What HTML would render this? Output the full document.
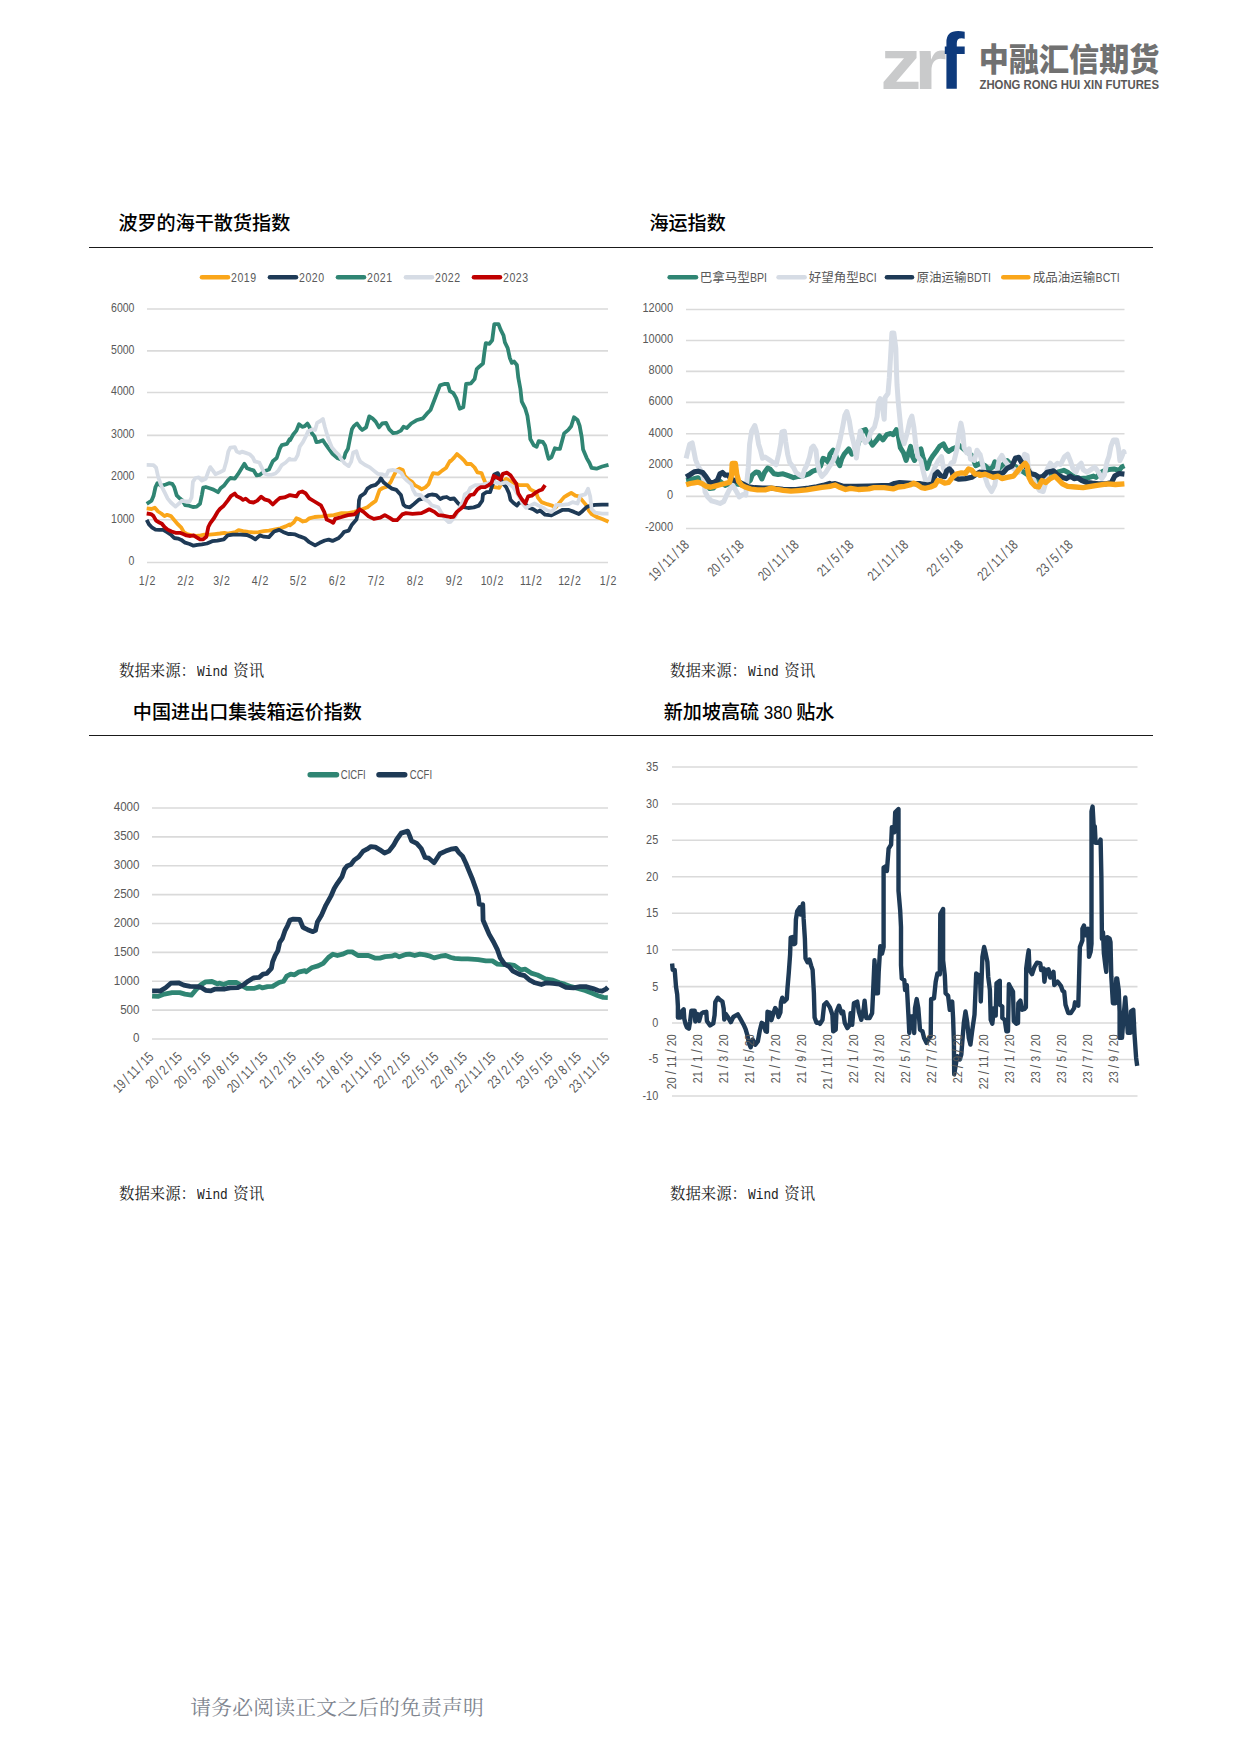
<!DOCTYPE html>
<html lang="zh-CN"><head><meta charset="utf-8"><title>中融汇信期货</title>
<style>
html,body{margin:0;padding:0;background:#fff;}
body{width:1241px;height:1755px;position:relative;overflow:hidden;font-family:"Liberation Sans","Noto Sans CJK SC",sans-serif;}
.t{position:absolute;white-space:nowrap;line-height:1;}
.title{font-family:"Liberation Sans","Noto Sans CJK SC",sans-serif;font-weight:500;font-size:19.1px;color:#000;}
.title .n{display:inline-block;width:26.4px;}
.title .n span{display:inline-block;transform:scaleX(0.89);margin:0 -2.75px;}
.src{font-family:"Liberation Serif","Noto Serif CJK SC",serif;font-size:15.4px;color:#222;}
.src .w{display:inline-block;width:33.45px;}
.src .w span{display:inline-block;font-family:"Liberation Mono",monospace;transform:scaleX(0.833);transform-origin:0 50%;white-space:pre;margin-left:1.5px;}
.rule{position:absolute;height:1.3px;background:#1a1a1a;}
svg.charts{position:absolute;left:0;top:0;}
svg text{font-family:"Liberation Sans","Noto Sans CJK SC",sans-serif;}
.foot{font-family:"Liberation Serif","Noto Serif CJK SC",serif;font-size:20.8px;letter-spacing:0.18px;color:#80858f;}
</style></head><body>
<svg class="charts" width="1241" height="130" viewBox="0 0 1241 130" style="z-index:2">
<text id="lz" transform="translate(880.2,88.9) scale(1.13,1)" font-family="Liberation Sans,sans-serif" font-weight="bold" font-size="73" fill="#C9CACB">z</text>
<text id="lr" transform="translate(914.0,88.9) scale(1.153,1)" font-family="Liberation Sans,sans-serif" font-weight="bold" font-size="73" fill="#C9CACB">r</text>
<clipPath id="cf"><rect x="944.8" y="0" width="60" height="130"/></clipPath><g clip-path="url(#cf)"><text id="lf" transform="translate(939.3,88.9) scale(0.95,1)" font-family="Liberation Sans,sans-serif" font-weight="bold" font-size="80" fill="#0E3A7C">f</text></g>
<text id="lc" x="978.8" y="70.8" font-family="Noto Sans CJK SC,sans-serif" font-weight="900" font-size="31.8" fill="#717171" textLength="180.6" lengthAdjust="spacingAndGlyphs">中融汇信期货</text>
<text id="le" x="979.5" y="89.2" font-family="Liberation Sans,sans-serif" font-weight="bold" font-size="12.6" fill="#5A5858" textLength="179.5" lengthAdjust="spacingAndGlyphs">ZHONG RONG HUI XIN FUTURES</text>
</svg>
<div class="t title" style="left:118.4px;top:214.2px;">波罗的海干散货指数</div>
<div class="t title" style="left:649.4px;top:214.2px;">海运指数</div>
<div class="rule" style="left:89px;top:246.7px;width:1064px;"></div>
<div class="t title" style="left:132.8px;top:703.2px;">中国进出口集装箱运价指数</div>
<div class="t title" style="left:663.7px;top:703.2px;">新加坡高硫 <span class="n"><span>380</span></span> 贴水</div>
<div class="rule" style="left:89px;top:735.2px;width:1064px;"></div>
<svg class="charts" width="1241" height="1755" viewBox="0 0 1241 1755">
<line x1="147" x2="608" y1="308.95" y2="308.95" stroke="#DADADA" stroke-width="1.6"/><line x1="147" x2="608" y1="350.9" y2="350.9" stroke="#DADADA" stroke-width="1.6"/><line x1="147" x2="608" y1="392.5" y2="392.5" stroke="#DADADA" stroke-width="1.6"/><line x1="147" x2="608" y1="435.4" y2="435.4" stroke="#DADADA" stroke-width="1.6"/><line x1="147" x2="608" y1="477.4" y2="477.4" stroke="#DADADA" stroke-width="1.6"/><line x1="147" x2="608" y1="519.7" y2="519.7" stroke="#DADADA" stroke-width="1.6"/><line x1="147" x2="608" y1="562.45" y2="562.45" stroke="#DADADA" stroke-width="1.6"/>
<text transform="translate(134.5,311.84999999999997) scale(0.88,1)" font-size="12" text-anchor="end" fill="#595959" >6000</text>
<text transform="translate(134.5,353.79999999999995) scale(0.88,1)" font-size="12" text-anchor="end" fill="#595959" >5000</text>
<text transform="translate(134.5,395.4) scale(0.88,1)" font-size="12" text-anchor="end" fill="#595959" >4000</text>
<text transform="translate(134.5,438.29999999999995) scale(0.88,1)" font-size="12" text-anchor="end" fill="#595959" >3000</text>
<text transform="translate(134.5,480.29999999999995) scale(0.88,1)" font-size="12" text-anchor="end" fill="#595959" >2000</text>
<text transform="translate(134.5,522.6) scale(0.88,1)" font-size="12" text-anchor="end" fill="#595959" >1000</text>
<text transform="translate(134.5,565.35) scale(0.88,1)" font-size="12" text-anchor="end" fill="#595959" >0</text>
<text transform="translate(147,585) scale(0.88,1)" font-size="12" text-anchor="middle" fill="#595959" >1<tspan font-size="13.8" dx="0.9" dy="0.8">/</tspan><tspan dx="0.9" dy="-0.8">2</tspan></text>
<text transform="translate(185.5,585) scale(0.88,1)" font-size="12" text-anchor="middle" fill="#595959" >2<tspan font-size="13.8" dx="0.9" dy="0.8">/</tspan><tspan dx="0.9" dy="-0.8">2</tspan></text>
<text transform="translate(221.5,585) scale(0.88,1)" font-size="12" text-anchor="middle" fill="#595959" >3<tspan font-size="13.8" dx="0.9" dy="0.8">/</tspan><tspan dx="0.9" dy="-0.8">2</tspan></text>
<text transform="translate(260,585) scale(0.88,1)" font-size="12" text-anchor="middle" fill="#595959" >4<tspan font-size="13.8" dx="0.9" dy="0.8">/</tspan><tspan dx="0.9" dy="-0.8">2</tspan></text>
<text transform="translate(298,585) scale(0.88,1)" font-size="12" text-anchor="middle" fill="#595959" >5<tspan font-size="13.8" dx="0.9" dy="0.8">/</tspan><tspan dx="0.9" dy="-0.8">2</tspan></text>
<text transform="translate(337,585) scale(0.88,1)" font-size="12" text-anchor="middle" fill="#595959" >6<tspan font-size="13.8" dx="0.9" dy="0.8">/</tspan><tspan dx="0.9" dy="-0.8">2</tspan></text>
<text transform="translate(376,585) scale(0.88,1)" font-size="12" text-anchor="middle" fill="#595959" >7<tspan font-size="13.8" dx="0.9" dy="0.8">/</tspan><tspan dx="0.9" dy="-0.8">2</tspan></text>
<text transform="translate(415,585) scale(0.88,1)" font-size="12" text-anchor="middle" fill="#595959" >8<tspan font-size="13.8" dx="0.9" dy="0.8">/</tspan><tspan dx="0.9" dy="-0.8">2</tspan></text>
<text transform="translate(454,585) scale(0.88,1)" font-size="12" text-anchor="middle" fill="#595959" >9<tspan font-size="13.8" dx="0.9" dy="0.8">/</tspan><tspan dx="0.9" dy="-0.8">2</tspan></text>
<text transform="translate(492,585) scale(0.88,1)" font-size="12" text-anchor="middle" fill="#595959" >10<tspan font-size="13.8" dx="0.9" dy="0.8">/</tspan><tspan dx="0.9" dy="-0.8">2</tspan></text>
<text transform="translate(531,585) scale(0.88,1)" font-size="12" text-anchor="middle" fill="#595959" >11<tspan font-size="13.8" dx="0.9" dy="0.8">/</tspan><tspan dx="0.9" dy="-0.8">2</tspan></text>
<text transform="translate(569.5,585) scale(0.88,1)" font-size="12" text-anchor="middle" fill="#595959" >12<tspan font-size="13.8" dx="0.9" dy="0.8">/</tspan><tspan dx="0.9" dy="-0.8">2</tspan></text>
<text transform="translate(608,585) scale(0.88,1)" font-size="12" text-anchor="middle" fill="#595959" >1<tspan font-size="13.8" dx="0.9" dy="0.8">/</tspan><tspan dx="0.9" dy="-0.8">2</tspan></text>
<polyline points="146.7,508.3 151.6,509.0 154.8,507.7 158.1,511.5 161.3,513.5 164.5,516.1 167.1,514.8 170.9,516.1 174.2,519.9 178.0,524.4 181.3,527.7 183.8,532.2 187.1,534.1 191.6,535.4 196.7,536.0 200.6,535.4 204.5,534.7 209.6,534.7 214.8,534.1 219.9,533.5 224.5,532.8 227.7,533.5 235.4,532.2 238.6,530.2 243.1,531.1 248.3,531.9 253.5,532.4 258.6,532.2 263.8,531.1 268.9,530.6 274.1,529.6 280.5,528.3 285.7,526.4 289.6,524.4 290.0,525.4 293.9,522.2 296.4,518.3 299.7,519.6 302.9,521.5 306.1,520.9 309.3,518.3 314.5,517.0 322.2,516.4 328.7,515.7 333.8,515.1 341.6,513.1 348.0,513.1 354.5,511.9 362.2,509.3 367.4,507.3 371.2,504.1 375.7,500.9 377.7,495.1 379.6,489.9 382.8,488.0 386.7,486.7 390.6,482.2 393.1,477.0 396.4,470.6 399.6,468.7 402.8,470.0 404.7,475.8 408.6,479.6 411.8,481.6 415.1,485.4 418.9,487.4 421.5,489.3 425.4,487.4 428.6,484.1 431.2,477.0 433.1,473.2 438.3,473.8 442.1,470.6 446.0,468.0 450.0,460.9 450.6,461.2 454.1,457.6 456.9,454.1 460.4,456.9 464.0,460.4 466.8,464.0 471.0,464.0 474.6,467.5 477.4,472.4 481.6,473.1 483.7,478.8 485.8,483.7 489.4,485.1 494.3,487.2 499.2,487.9 502.1,482.3 506.3,478.8 511.9,482.3 519.0,485.1 527.4,485.1 530.3,489.4 535.9,492.2 538.0,497.8 541.5,502.1 547.2,504.2 552.1,505.6 555.6,507.7 559.9,502.1 564.1,497.1 567.6,495.0 571.2,492.9 575.4,495.7 578.9,496.4 582.4,500.6 586.0,504.9 588.8,510.5 591.6,514.0 596.5,516.9 602.2,519.0 608.5,521.8" fill="none" stroke="#FAA61A" stroke-width="3.8" stroke-linejoin="round" stroke-linecap="butt"/>
<polyline points="146.7,519.9 149.0,524.4 152.2,527.7 155.5,529.6 159.3,529.9 163.2,529.9 167.1,532.2 170.9,534.7 174.2,538.0 178.0,538.6 181.3,539.9 185.1,542.7 189.6,544.0 193.5,545.7 197.4,544.8 201.9,544.4 207.0,543.5 212.2,541.2 217.4,540.6 223.8,539.3 227.7,535.4 232.8,534.7 240.6,534.7 247.0,535.0 252.2,537.3 255.4,539.3 259.9,535.4 263.8,536.7 268.9,537.1 274.1,531.5 279.2,529.9 283.1,531.9 288.3,534.1 290.0,533.8 295.2,534.4 299.7,536.4 304.8,538.3 309.3,542.2 315.1,545.4 319.7,542.8 324.8,540.5 328.7,539.6 332.5,540.9 338.3,538.3 341.6,535.1 344.2,531.8 348.7,530.6 351.9,524.7 356.4,519.6 358.3,511.9 359.0,500.3 360.3,496.4 364.8,493.2 367.4,488.6 371.2,486.1 375.7,484.8 379.0,481.6 380.9,478.3 383.5,482.2 387.3,485.4 391.9,488.6 396.4,489.9 400.9,495.1 403.5,504.8 406.0,506.7 409.9,507.3 413.8,504.1 418.9,499.6 424.1,498.3 428.6,495.1 431.8,494.5 436.3,495.1 440.2,499.0 442.8,497.7 446.7,497.0 450.0,499.0 454.1,498.5 458.3,503.5 462.6,507.0 468.2,508.0 473.8,507.4 478.8,505.6 482.3,500.6 483.0,494.3 486.5,492.2 490.1,492.2 492.9,483.7 494.3,474.6 497.8,473.1 499.9,477.4 502.1,482.3 506.3,487.2 509.1,493.6 510.5,499.9 513.3,502.8 516.9,505.6 519.0,502.8 523.2,502.1 528.8,507.7 533.1,509.1 537.3,511.9 540.1,510.5 545.1,514.7 551.4,515.4 557.0,512.6 562.7,509.8 568.3,509.8 574.0,511.9 578.9,514.0 582.4,511.2 586.7,507.0 590.9,505.6 595.1,504.9 602.2,504.6 608.5,504.6" fill="none" stroke="#1E3A56" stroke-width="3.8" stroke-linejoin="round" stroke-linecap="butt"/>
<polyline points="146.7,503.8 151.6,500.6 153.5,496.1 155.5,487.0 157.4,483.2 161.3,485.8 165.8,484.5 169.0,483.2 172.2,483.8 174.2,487.0 176.7,495.4 180.0,498.6 182.5,500.6 185.1,505.1 189.0,505.7 192.9,507.0 196.7,506.6 200.0,503.8 201.9,494.8 203.2,487.7 205.8,487.0 209.6,488.3 213.5,489.6 218.0,492.2 220.6,488.3 223.8,485.8 227.7,480.6 230.3,478.0 234.8,478.7 238.0,474.2 241.2,469.0 244.4,463.8 247.0,468.3 250.9,469.6 253.5,470.3 256.7,475.4 259.9,474.8 263.8,471.6 268.9,469.6 272.8,461.3 276.7,458.0 279.9,448.4 281.8,445.1 287.0,443.9 289.6,439.3 290.0,440.3 293.2,434.5 296.4,430.6 299.0,424.2 302.2,426.8 304.8,426.1 307.4,423.5 309.3,426.8 311.9,433.2 314.5,436.4 316.4,442.2 319.7,441.6 322.9,440.3 325.5,444.2 328.7,448.7 332.5,453.8 337.7,458.3 341.6,459.6 344.2,457.7 345.4,453.2 348.0,448.7 350.0,438.4 351.9,429.3 353.8,426.1 357.0,423.5 360.3,428.1 362.2,430.0 366.1,427.4 369.3,416.4 372.5,418.4 375.7,421.6 379.0,427.4 382.2,423.5 386.1,422.9 389.3,429.3 393.1,433.2 397.0,432.6 400.9,430.6 403.5,426.8 406.7,428.1 411.2,423.5 416.4,420.3 422.8,418.4 426.7,413.9 430.5,410.0 440.0,385.4 444.2,384.0 447.8,384.0 449.9,391.1 453.4,393.2 456.2,398.1 459.7,408.7 463.3,407.3 464.7,396.0 466.1,384.0 471.0,383.3 474.6,379.1 476.7,369.2 479.5,366.4 483.0,363.6 484.4,352.3 485.8,343.1 489.4,343.8 492.2,340.3 494.3,324.1 498.5,324.1 500.6,329.7 503.5,335.4 504.9,342.4 507.7,348.1 509.8,357.9 511.9,362.9 514.0,361.5 516.9,365.0 518.3,377.7 520.4,389.0 521.8,401.7 525.3,408.7 527.4,415.8 529.6,431.3 530.3,439.0 533.8,445.4 536.6,446.8 538.7,441.2 542.9,441.9 545.1,445.4 547.2,453.8 548.6,458.8 551.4,457.4 554.9,448.2 557.0,448.9 559.9,448.9 562.0,441.2 564.1,433.4 568.3,429.9 571.2,426.3 574.0,417.2 577.5,420.0 579.6,425.6 581.7,436.9 583.1,449.6 586.7,458.1 589.5,463.0 591.6,467.9 596.5,468.7 602.2,466.5 608.5,464.8" fill="none" stroke="#2F8573" stroke-width="3.8" stroke-linejoin="round" stroke-linecap="butt"/>
<polyline points="146.7,464.9 153.5,465.1 156.1,467.7 158.1,476.7 161.3,485.8 164.5,492.2 167.7,498.6 170.9,502.5 175.5,506.6 178.7,503.8 181.9,500.6 185.1,501.5 189.6,501.5 191.6,497.4 192.9,481.9 195.4,478.0 198.7,477.4 201.9,480.6 205.8,478.7 208.3,471.6 210.3,467.1 212.2,469.6 215.4,474.2 219.9,472.2 223.8,470.3 226.4,461.3 228.3,451.6 230.3,447.7 234.8,447.1 236.7,451.6 239.9,452.9 241.9,451.6 245.7,452.9 249.6,454.2 252.8,457.4 254.7,461.3 259.3,462.5 261.8,467.7 264.4,473.5 267.6,474.8 271.5,474.8 275.4,473.5 278.6,470.3 281.8,465.1 285.7,462.5 289.6,458.7 290.0,459.6 295.2,459.6 297.7,455.1 299.7,446.7 302.9,442.2 306.1,435.8 308.1,431.3 312.6,429.3 315.1,430.0 317.1,422.9 320.3,421.0 322.9,419.0 324.8,426.8 326.7,433.2 328.7,439.7 331.9,447.4 335.1,451.3 339.0,455.1 341.6,459.6 344.8,463.5 348.7,466.1 351.2,461.6 353.2,452.5 356.4,451.3 358.3,457.7 360.3,461.6 364.8,464.8 369.9,467.4 373.8,470.6 377.7,473.8 382.8,474.5 386.1,475.8 388.6,470.6 393.1,470.0 398.3,471.2 401.5,473.2 404.1,477.7 407.3,480.9 411.2,484.1 413.1,489.9 415.7,494.5 420.9,495.1 424.1,499.0 428.6,501.5 431.8,505.4 438.3,507.3 441.5,513.1 444.7,518.3 448.6,522.2 450.6,521.8 455.5,516.2 459.7,507.7 463.3,500.6 464.7,494.3 468.2,492.2 470.3,487.9 475.3,485.1 480.9,485.1 486.5,483.7 492.2,481.6 500.6,483.7 506.3,482.3 510.5,485.1 513.3,487.2 519.0,496.4 522.5,503.5 526.0,507.7 530.3,505.6 534.5,503.5 538.7,505.6 542.9,507.7 547.2,510.5 551.4,511.9 554.2,509.1 556.3,504.9 562.7,504.9 568.3,504.2 572.6,502.1 577.5,503.5 580.3,495.7 585.3,494.3 588.1,488.7 590.2,496.4 591.6,509.1 595.1,512.6 602.2,513.6 608.5,513.6" fill="none" stroke="#D6DCE5" stroke-width="3.8" stroke-linejoin="round" stroke-linecap="butt"/>
<polyline points="146.7,513.5 151.0,514.1 153.5,516.1 156.1,520.6 159.3,522.5 161.9,523.8 164.5,527.0 167.7,529.6 171.6,531.5 175.5,532.8 180.0,532.8 183.2,534.1 186.4,535.4 190.3,536.0 193.5,535.4 196.7,537.3 200.0,539.3 203.2,539.3 206.4,536.7 208.3,527.0 210.3,523.1 214.1,518.0 217.4,512.2 219.9,509.0 223.8,505.7 227.7,500.6 230.9,496.1 234.8,493.5 236.7,496.1 240.6,498.0 243.1,499.9 245.7,498.6 249.6,501.9 253.5,502.5 257.3,500.6 261.2,496.7 264.4,499.3 268.9,500.6 272.8,504.5 276.7,500.6 279.9,498.0 284.4,497.4 288.9,495.4 290.0,495.1 296.4,496.4 299.0,492.5 302.2,491.5 305.5,493.2 309.3,498.3 314.5,501.5 320.9,505.4 324.2,511.9 326.7,519.6 330.0,520.9 333.2,522.8 335.1,518.9 341.6,517.0 348.0,515.1 354.5,514.4 359.6,509.3 363.5,511.9 368.6,516.4 373.8,518.9 380.3,517.7 384.8,515.1 389.3,517.7 393.1,520.2 397.0,520.2 402.2,514.4 406.0,513.1 412.5,513.8 421.5,513.1 425.4,511.2 429.2,509.3 434.4,511.9 438.3,515.1 443.4,515.7 450.0,517.0 453.4,516.9 456.9,511.9 461.2,508.4 464.0,505.6 466.8,499.2 470.3,495.0 473.8,494.3 477.4,489.4 480.9,487.2 485.1,487.2 488.7,485.1 491.5,483.0 493.6,476.0 497.8,478.1 500.6,479.5 502.8,473.8 507.0,472.7 510.5,475.3 513.3,479.5 516.2,483.7 518.3,493.6 521.8,499.2 525.3,503.5 528.1,496.4 531.7,495.7 535.2,492.9 538.7,490.8 542.2,489.4 545.1,485.1" fill="none" stroke="#C00000" stroke-width="3.8" stroke-linejoin="round" stroke-linecap="butt"/>
<line x1="202" x2="228" y1="277.2" y2="277.2" stroke="#FAA61A" stroke-width="4.6" stroke-linecap="round"/><text transform="translate(231,281.5) scale(0.88,1)" font-size="12" text-anchor="start" fill="#595959" letter-spacing="0.6">2019</text><line x1="270" x2="296" y1="277.2" y2="277.2" stroke="#1E3A56" stroke-width="4.6" stroke-linecap="round"/><text transform="translate(299,281.5) scale(0.88,1)" font-size="12" text-anchor="start" fill="#595959" letter-spacing="0.6">2020</text><line x1="338" x2="364" y1="277.2" y2="277.2" stroke="#2F8573" stroke-width="4.6" stroke-linecap="round"/><text transform="translate(367,281.5) scale(0.88,1)" font-size="12" text-anchor="start" fill="#595959" letter-spacing="0.6">2021</text><line x1="406" x2="432" y1="277.2" y2="277.2" stroke="#D6DCE5" stroke-width="4.6" stroke-linecap="round"/><text transform="translate(435,281.5) scale(0.88,1)" font-size="12" text-anchor="start" fill="#595959" letter-spacing="0.6">2022</text><line x1="474" x2="500" y1="277.2" y2="277.2" stroke="#C00000" stroke-width="4.6" stroke-linecap="round"/><text transform="translate(503,281.5) scale(0.88,1)" font-size="12" text-anchor="start" fill="#595959" letter-spacing="0.6">2023</text>
<line x1="686" x2="1124.5" y1="309.5" y2="309.5" stroke="#DADADA" stroke-width="1.6"/><line x1="686" x2="1124.5" y1="340.45" y2="340.45" stroke="#DADADA" stroke-width="1.6"/><line x1="686" x2="1124.5" y1="371.4" y2="371.4" stroke="#DADADA" stroke-width="1.6"/><line x1="686" x2="1124.5" y1="402.4" y2="402.4" stroke="#DADADA" stroke-width="1.6"/><line x1="686" x2="1124.5" y1="433.8" y2="433.8" stroke="#DADADA" stroke-width="1.6"/><line x1="686" x2="1124.5" y1="465.1" y2="465.1" stroke="#DADADA" stroke-width="1.6"/><line x1="686" x2="1124.5" y1="496.4" y2="496.4" stroke="#DADADA" stroke-width="1.6"/><line x1="686" x2="1124.5" y1="528.5" y2="528.5" stroke="#DADADA" stroke-width="1.6"/>
<text transform="translate(673,312.3) scale(0.88,1)" font-size="12.5" text-anchor="end" fill="#595959" >12000</text>
<text transform="translate(673,343.25) scale(0.88,1)" font-size="12.5" text-anchor="end" fill="#595959" >10000</text>
<text transform="translate(673,374.2) scale(0.88,1)" font-size="12.5" text-anchor="end" fill="#595959" >8000</text>
<text transform="translate(673,405.2) scale(0.88,1)" font-size="12.5" text-anchor="end" fill="#595959" >6000</text>
<text transform="translate(673,436.6) scale(0.88,1)" font-size="12.5" text-anchor="end" fill="#595959" >4000</text>
<text transform="translate(673,467.90000000000003) scale(0.88,1)" font-size="12.5" text-anchor="end" fill="#595959" >2000</text>
<text transform="translate(673,499.2) scale(0.88,1)" font-size="12.5" text-anchor="end" fill="#595959" >0</text>
<text transform="translate(673,531.3) scale(0.88,1)" font-size="12.5" text-anchor="end" fill="#595959" >-2000</text>
<polyline points="686.1,480.3 692.9,479.0 698.1,477.7 703.2,482.8 709.7,488.6 713.5,488.0 718.7,480.3 725.1,485.4 731.6,482.8 736.7,484.1 744.5,485.4 750.3,480.3 752.2,475.1 756.1,471.9 758.6,472.5 761.9,479.0 764.5,472.5 767.7,468.0 770.3,469.3 774.1,473.8 778.0,474.5 783.1,473.8 788.3,475.7 793.5,477.7 798.6,476.4 803.8,475.7 808.9,473.8 812.8,471.2 816.7,469.9 820.5,466.1 823.1,458.3 825.7,459.6 828.3,462.2 830.0,454.1 833.2,450.2 835.8,455.4 837.7,461.8 839.7,465.7 841.6,459.2 844.2,454.1 848.7,448.9 851.9,454.1 855.8,451.5 862.2,430.9 865.5,429.6 867.4,433.5 870.0,441.2 872.5,445.1 875.8,441.2 879.6,436.0 882.9,439.9 886.7,434.7 890.6,433.5 893.2,434.7 896.4,429.6 898.3,436.0 900.3,447.6 903.5,452.8 906.1,460.5 908.6,452.8 910.6,446.4 912.5,456.7 914.5,460.5 919.0,450.2 920.9,448.9 922.8,456.7 925.4,464.4 927.3,468.3 929.9,460.5 933.1,455.4 937.0,450.2 939.6,446.4 943.5,443.8 946.0,448.9 948.6,451.5 952.5,448.9 955.7,447.6 958.9,445.1 966.7,451.5 971.8,455.4 975.7,465.7 978.3,464.4 980.0,463.2 985.2,465.8 989.0,469.6 992.9,467.0 994.8,461.9 999.3,468.3 1007.1,460.6 1009.7,463.2 1016.1,467.0 1023.8,472.2 1031.6,477.4 1036.7,481.2 1041.9,477.4 1047.0,473.5 1057.4,472.2 1063.8,470.3 1067.7,472.2 1072.8,476.1 1080.6,478.6 1087.0,478.0 1093.5,476.1 1096.0,477.4 1101.2,472.2 1103.8,470.9 1108.9,469.6 1114.1,469.0 1119.2,470.3 1121.8,467.0 1124.4,465.8" fill="none" stroke="#2F8573" stroke-width="5.0" stroke-linejoin="round" stroke-linecap="butt"/>
<polyline points="686.1,458.3 687.7,451.9 689.7,444.2 692.2,442.9 693.5,449.3 695.5,459.6 698.1,466.1 701.9,472.5 703.9,480.3 705.1,491.9 707.7,497.0 711.6,500.9 716.1,502.2 720.0,503.5 723.8,501.5 726.4,495.7 729.6,489.3 732.9,485.4 736.7,491.9 739.3,497.0 743.2,494.4 745.8,495.1 747.0,480.3 748.3,467.4 749.6,444.2 751.6,431.3 754.8,425.5 756.7,432.5 758.6,444.2 760.6,450.6 762.5,458.3 765.1,457.0 769.0,459.6 772.8,462.2 776.1,464.8 778.6,454.5 780.6,444.2 781.9,431.9 784.4,431.3 785.7,441.6 787.7,454.5 789.6,462.2 793.5,467.4 796.0,472.5 799.9,475.1 802.5,476.4 804.4,469.9 807.0,464.8 809.6,457.0 811.5,448.0 813.4,446.1 816.0,450.6 817.3,462.2 819.2,471.2 821.8,476.4 825.7,472.5 829.6,466.1 830.0,465.7 833.9,459.2 837.7,448.9 840.3,438.6 842.9,425.7 844.8,415.4 846.8,411.5 849.3,420.6 851.3,433.5 853.9,443.8 856.4,458.0 858.4,442.5 860.3,430.9 862.9,438.6 865.5,442.5 868.7,438.6 871.3,430.9 874.5,427.0 877.1,416.7 878.3,402.5 880.3,398.6 882.2,406.4 884.2,419.3 885.1,397.4 888.0,393.5 889.3,378.0 890.6,356.1 891.9,332.9 893.8,332.9 895.8,348.4 896.4,369.0 897.0,384.5 898.3,402.5 900.3,423.1 901.6,436.0 904.1,443.8 907.4,432.2 909.9,420.6 911.9,416.1 913.8,427.0 915.7,443.8 917.7,456.7 920.9,460.5 922.8,469.6 925.4,479.9 928.6,481.2 931.9,474.7 934.4,468.3 938.3,460.5 941.5,456.7 943.5,468.3 946.0,473.4 951.2,463.1 953.8,461.8 957.0,448.9 958.9,433.5 960.9,423.1 962.8,432.2 964.1,447.6 966.7,452.8 969.2,448.9 970.5,459.2 974.4,460.5 977.0,450.2 979.6,454.1 980.0,454.2 982.6,464.5 985.2,477.4 987.7,485.1 991.6,491.5 994.8,485.1 996.8,472.2 999.3,459.3 1001.9,455.4 1004.5,460.6 1007.7,464.5 1018.7,472.2 1022.5,461.9 1024.5,454.2 1027.1,455.4 1028.3,467.0 1035.4,483.8 1039.3,490.3 1043.2,491.5 1045.8,482.5 1047.0,469.6 1050.3,463.2 1053.5,467.0 1057.4,463.2 1060.6,464.5 1064.5,456.7 1067.7,454.2 1070.3,460.6 1072.8,468.3 1076.1,472.2 1078.6,465.8 1081.2,463.2 1083.1,469.6 1087.0,472.2 1090.9,469.6 1094.7,467.0 1098.6,472.2 1101.8,478.6 1104.4,474.8 1107.0,461.9 1108.9,456.7 1110.9,446.4 1113.4,440.0 1116.7,440.0 1118.6,449.0 1119.9,460.6 1121.8,456.7 1123.8,451.6 1124.4,454.2" fill="none" stroke="#D6DCE5" stroke-width="5.0" stroke-linejoin="round" stroke-linecap="butt"/>
<polyline points="686.1,477.0 690.3,474.5 694.2,471.9 698.1,471.2 702.6,472.5 705.8,476.4 709.7,482.2 713.5,482.8 717.4,480.3 720.0,473.8 722.5,472.5 725.1,475.1 728.3,475.1 730.9,479.0 734.2,480.3 738.0,481.5 743.2,484.1 748.3,486.7 754.8,487.7 762.5,488.0 770.3,488.0 783.1,489.3 796.0,489.5 808.9,488.0 816.7,486.7 823.1,485.4 829.6,483.5 830.0,484.4 835.2,483.7 842.9,486.3 855.8,486.3 868.7,486.1 881.6,485.7 889.3,485.7 894.5,483.5 899.6,482.5 907.4,483.1 913.8,483.7 920.3,483.7 928.0,485.0 933.1,483.7 935.1,474.7 937.7,472.1 940.9,476.0 944.7,476.7 946.7,470.9 949.3,468.9 951.8,471.5 953.8,477.3 958.9,479.2 965.4,478.6 971.8,477.3 975.7,474.7 979.6,472.1 980.0,472.2 987.7,472.8 995.5,473.5 1003.2,472.8 1007.1,468.3 1012.2,465.8 1015.5,458.0 1018.7,457.4 1021.3,461.9 1024.5,464.5 1030.3,473.5 1035.4,474.8 1039.3,477.4 1043.2,476.1 1047.0,472.2 1053.5,470.9 1057.4,474.8 1062.5,477.4 1066.4,478.6 1070.3,476.1 1074.1,478.6 1078.0,478.0 1081.9,480.6 1087.0,482.5 1092.2,483.2 1098.6,483.8 1106.4,483.8 1111.5,482.5 1114.7,476.1 1119.2,473.5 1124.4,474.1" fill="none" stroke="#1E3A56" stroke-width="5.2" stroke-linejoin="round" stroke-linecap="butt"/>
<polyline points="686.1,484.8 690.3,483.5 694.2,482.8 698.1,482.2 701.9,483.5 705.8,486.1 710.3,487.3 714.8,486.1 720.0,484.8 725.1,483.5 729.6,482.2 731.6,475.1 732.2,463.5 735.4,463.5 736.7,473.8 738.7,481.5 741.9,485.4 745.8,487.3 750.9,489.0 757.4,489.9 765.1,489.9 771.5,488.0 775.4,489.0 783.1,490.3 790.9,491.2 798.6,490.6 806.4,489.9 814.1,488.6 821.8,487.3 828.3,486.7 830.0,486.3 835.2,485.0 840.3,487.6 845.5,489.5 850.6,488.3 858.4,489.5 868.7,488.9 873.8,487.6 884.2,487.6 893.2,488.9 898.3,487.0 904.8,486.3 909.9,485.0 913.8,483.1 917.7,485.0 921.5,487.6 925.4,488.3 930.6,487.0 935.1,485.0 937.7,480.5 940.9,481.2 944.7,483.1 948.6,482.5 952.5,477.3 956.4,474.1 961.5,472.8 965.4,473.4 968.6,468.9 971.8,470.2 975.0,474.1 979.6,474.1 980.0,475.4 985.2,474.1 992.9,477.4 998.1,476.1 1001.9,478.6 1007.1,477.4 1013.5,476.1 1018.7,469.6 1022.5,465.8 1025.1,463.2 1027.1,465.8 1029.0,477.4 1031.6,482.5 1035.4,486.4 1038.7,487.0 1041.9,480.6 1045.8,482.5 1050.3,478.6 1054.8,476.1 1058.6,479.9 1062.5,483.8 1067.7,486.4 1075.4,487.0 1083.1,487.7 1090.9,486.4 1098.6,485.1 1107.6,483.8 1115.4,484.5 1124.4,483.8" fill="none" stroke="#FAA61A" stroke-width="5.3" stroke-linejoin="round" stroke-linecap="butt"/>
<text transform="translate(690.0,545.7) rotate(-45) scale(0.76,1)" font-size="14" text-anchor="end" fill="#595959">19<tspan font-size="16.1" dx="2.75" dy="0.8">/</tspan><tspan dx="2.75" dy="-0.8">1</tspan>1<tspan font-size="16.1" dx="2.75" dy="0.8">/</tspan><tspan dx="2.75" dy="-0.8">1</tspan>8</text>
<text transform="translate(744.8,545.7) rotate(-45) scale(0.76,1)" font-size="14" text-anchor="end" fill="#595959">20<tspan font-size="16.1" dx="2.75" dy="0.8">/</tspan><tspan dx="2.75" dy="-0.8">5</tspan><tspan font-size="16.1" dx="2.75" dy="0.8">/</tspan><tspan dx="2.75" dy="-0.8">1</tspan>8</text>
<text transform="translate(799.6,545.7) rotate(-45) scale(0.76,1)" font-size="14" text-anchor="end" fill="#595959">20<tspan font-size="16.1" dx="2.75" dy="0.8">/</tspan><tspan dx="2.75" dy="-0.8">1</tspan>1<tspan font-size="16.1" dx="2.75" dy="0.8">/</tspan><tspan dx="2.75" dy="-0.8">1</tspan>8</text>
<text transform="translate(854.4,545.7) rotate(-45) scale(0.76,1)" font-size="14" text-anchor="end" fill="#595959">21<tspan font-size="16.1" dx="2.75" dy="0.8">/</tspan><tspan dx="2.75" dy="-0.8">5</tspan><tspan font-size="16.1" dx="2.75" dy="0.8">/</tspan><tspan dx="2.75" dy="-0.8">1</tspan>8</text>
<text transform="translate(909.2,545.7) rotate(-45) scale(0.76,1)" font-size="14" text-anchor="end" fill="#595959">21<tspan font-size="16.1" dx="2.75" dy="0.8">/</tspan><tspan dx="2.75" dy="-0.8">1</tspan>1<tspan font-size="16.1" dx="2.75" dy="0.8">/</tspan><tspan dx="2.75" dy="-0.8">1</tspan>8</text>
<text transform="translate(964.0,545.7) rotate(-45) scale(0.76,1)" font-size="14" text-anchor="end" fill="#595959">22<tspan font-size="16.1" dx="2.75" dy="0.8">/</tspan><tspan dx="2.75" dy="-0.8">5</tspan><tspan font-size="16.1" dx="2.75" dy="0.8">/</tspan><tspan dx="2.75" dy="-0.8">1</tspan>8</text>
<text transform="translate(1018.8,545.7) rotate(-45) scale(0.76,1)" font-size="14" text-anchor="end" fill="#595959">22<tspan font-size="16.1" dx="2.75" dy="0.8">/</tspan><tspan dx="2.75" dy="-0.8">1</tspan>1<tspan font-size="16.1" dx="2.75" dy="0.8">/</tspan><tspan dx="2.75" dy="-0.8">1</tspan>8</text>
<text transform="translate(1073.6,545.7) rotate(-45) scale(0.76,1)" font-size="14" text-anchor="end" fill="#595959">23<tspan font-size="16.1" dx="2.75" dy="0.8">/</tspan><tspan dx="2.75" dy="-0.8">5</tspan><tspan font-size="16.1" dx="2.75" dy="0.8">/</tspan><tspan dx="2.75" dy="-0.8">1</tspan>8</text>
<line x1="669.7" x2="696" y1="277.3" y2="277.3" stroke="#2F8573" stroke-width="4.6" stroke-linecap="round"/>
<text transform="translate(699.7,282.3) scale(1,1)" font-size="12.5" text-anchor="start" fill="#595959" >巴拿马型</text>
<text transform="translate(750.0,282) scale(0.88,1)" font-size="12" text-anchor="start" fill="#595959" >BPI</text>
<line x1="778.6" x2="804.6" y1="277.3" y2="277.3" stroke="#D6DCE5" stroke-width="4.6" stroke-linecap="round"/>
<text transform="translate(808.7,282.3) scale(1,1)" font-size="12.5" text-anchor="start" fill="#595959" >好望角型</text>
<text transform="translate(859.0,282) scale(0.88,1)" font-size="12" text-anchor="start" fill="#595959" >BCI</text>
<line x1="887" x2="912" y1="277.3" y2="277.3" stroke="#1E3A56" stroke-width="4.6" stroke-linecap="round"/>
<text transform="translate(916.6,282.3) scale(1,1)" font-size="12.5" text-anchor="start" fill="#595959" >原油运输</text>
<text transform="translate(966.9,282) scale(0.88,1)" font-size="12" text-anchor="start" fill="#595959" >BDTI</text>
<line x1="1003.3" x2="1028.3" y1="277.3" y2="277.3" stroke="#FAA61A" stroke-width="4.6" stroke-linecap="round"/>
<text transform="translate(1032.8,282.3) scale(1,1)" font-size="12.5" text-anchor="start" fill="#595959" >成品油运输</text>
<text transform="translate(1095.6,282) scale(0.88,1)" font-size="12" text-anchor="start" fill="#595959" >BCTI</text>
<line x1="152" x2="608" y1="808.05" y2="808.05" stroke="#DADADA" stroke-width="1.6"/><line x1="152" x2="608" y1="836.92" y2="836.92" stroke="#DADADA" stroke-width="1.6"/><line x1="152" x2="608" y1="865.79" y2="865.79" stroke="#DADADA" stroke-width="1.6"/><line x1="152" x2="608" y1="894.66" y2="894.66" stroke="#DADADA" stroke-width="1.6"/><line x1="152" x2="608" y1="923.53" y2="923.53" stroke="#DADADA" stroke-width="1.6"/><line x1="152" x2="608" y1="952.4" y2="952.4" stroke="#DADADA" stroke-width="1.6"/><line x1="152" x2="608" y1="981.27" y2="981.27" stroke="#DADADA" stroke-width="1.6"/><line x1="152" x2="608" y1="1010.14" y2="1010.14" stroke="#DADADA" stroke-width="1.6"/><line x1="152" x2="608" y1="1039.01" y2="1039.01" stroke="#DADADA" stroke-width="1.6"/>
<text transform="translate(139.5,811.4499999999999) scale(0.88,1)" font-size="13.2" text-anchor="end" fill="#595959" >4000</text>
<text transform="translate(139.5,840.3199999999999) scale(0.88,1)" font-size="13.2" text-anchor="end" fill="#595959" >3500</text>
<text transform="translate(139.5,869.1899999999999) scale(0.88,1)" font-size="13.2" text-anchor="end" fill="#595959" >3000</text>
<text transform="translate(139.5,898.06) scale(0.88,1)" font-size="13.2" text-anchor="end" fill="#595959" >2500</text>
<text transform="translate(139.5,926.93) scale(0.88,1)" font-size="13.2" text-anchor="end" fill="#595959" >2000</text>
<text transform="translate(139.5,955.8) scale(0.88,1)" font-size="13.2" text-anchor="end" fill="#595959" >1500</text>
<text transform="translate(139.5,984.67) scale(0.88,1)" font-size="13.2" text-anchor="end" fill="#595959" >1000</text>
<text transform="translate(139.5,1013.54) scale(0.88,1)" font-size="13.2" text-anchor="end" fill="#595959" >500</text>
<text transform="translate(139.5,1042.41) scale(0.88,1)" font-size="13.2" text-anchor="end" fill="#595959" >0</text>
<polyline points="152.1,996.1 157.9,996.4 164.3,994.1 172.1,992.6 179.8,992.6 185.0,994.1 191.4,995.2 196.6,989.0 200.4,985.1 205.6,981.9 212.0,981.5 217.2,983.8 219.8,983.2 223.6,984.5 228.8,982.5 236.5,982.5 241.7,985.7 246.9,988.3 254.6,988.3 259.7,986.6 262.3,987.9 267.5,986.6 272.6,986.4 279.1,982.5 283.6,981.2 286.8,976.1 290.7,974.1 294.6,974.8 298.4,972.2 305.0,970.7 306.4,971.7 311.6,967.8 318.1,965.9 323.2,963.3 328.4,957.5 332.9,954.2 337.4,955.5 342.5,954.2 347.7,951.9 352.2,951.9 358.0,955.5 368.3,955.5 374.8,958.1 379.9,958.1 385.1,956.6 391.5,956.2 395.4,954.9 399.3,956.8 405.7,954.5 409.6,954.2 414.7,955.5 419.9,954.2 425.1,954.9 430.2,956.2 434.1,957.9 440.5,956.2 445.7,955.5 450.9,957.5 454.7,958.4 461.4,958.9 467.9,958.9 478.2,959.6 485.9,960.9 492.4,960.9 497.5,964.1 504.0,964.7 509.2,964.7 514.3,965.4 520.8,969.9 525.3,969.2 531.1,973.1 537.5,975.0 545.3,978.9 553.0,980.2 559.4,982.8 564.6,984.1 571.0,986.7 578.8,988.6 585.2,990.5 591.7,993.1 598.1,995.7 603.3,997.4 607.8,997.6" fill="none" stroke="#2F8573" stroke-width="4.8" stroke-linejoin="round" stroke-linecap="butt"/>
<polyline points="152.1,990.9 160.5,990.9 165.6,987.7 170.8,983.2 178.5,982.8 183.7,985.1 190.1,986.4 197.9,986.6 201.7,987.7 205.6,990.3 210.8,990.9 214.6,989.2 224.9,989.0 230.1,987.9 237.8,987.7 243.0,985.1 248.1,981.2 253.3,978.0 259.1,977.4 263.0,974.1 266.8,973.5 271.4,968.3 272.6,961.9 275.2,955.4 277.8,950.9 279.7,942.5 282.3,938.7 284.9,930.9 287.5,925.8 290.0,920.0 293.3,919.1 299.7,919.3 302.9,927.1 305.0,928.4 307.7,929.7 312.9,931.7 315.5,930.4 317.4,922.0 321.3,915.6 325.8,905.3 330.9,896.2 334.2,888.5 337.4,883.3 341.9,876.9 344.5,869.2 347.1,865.9 350.9,864.6 354.2,860.1 358.7,856.9 363.2,851.1 367.0,849.2 370.9,846.6 375.4,847.2 379.9,849.8 384.5,853.0 389.0,851.1 393.5,845.3 396.7,839.5 401.2,833.1 407.7,831.1 409.6,835.6 411.5,840.8 416.7,843.4 421.2,848.5 425.1,857.5 428.9,858.2 434.1,862.7 439.9,853.7 445.7,851.1 450.9,849.2 456.0,848.5 458.9,852.6 462.7,856.4 466.0,863.5 469.2,871.3 472.4,879.0 475.6,888.0 478.2,895.8 479.2,904.1 482.7,904.8 483.1,920.3 485.9,926.7 489.2,934.4 493.7,942.2 497.5,949.9 500.1,957.6 504.6,964.1 509.2,966.7 513.0,971.2 519.5,974.4 524.6,975.7 529.8,980.2 534.9,982.8 541.4,984.5 546.5,982.8 553.0,983.4 559.4,984.1 565.9,987.3 573.6,987.9 580.1,986.7 586.5,986.7 593.0,988.6 598.1,990.5 602.0,991.2 605.9,989.2 607.8,987.3" fill="none" stroke="#1E3A56" stroke-width="4.8" stroke-linejoin="round" stroke-linecap="butt"/>
<text transform="translate(154.5,1057.7) rotate(-45) scale(0.76,1)" font-size="14" text-anchor="end" fill="#595959">19<tspan font-size="16.1" dx="2.75" dy="0.8">/</tspan><tspan dx="2.75" dy="-0.8">1</tspan>1<tspan font-size="16.1" dx="2.75" dy="0.8">/</tspan><tspan dx="2.75" dy="-0.8">1</tspan>5</text>
<text transform="translate(183.0,1057.7) rotate(-45) scale(0.76,1)" font-size="14" text-anchor="end" fill="#595959">20<tspan font-size="16.1" dx="2.75" dy="0.8">/</tspan><tspan dx="2.75" dy="-0.8">2</tspan><tspan font-size="16.1" dx="2.75" dy="0.8">/</tspan><tspan dx="2.75" dy="-0.8">1</tspan>5</text>
<text transform="translate(211.5,1057.7) rotate(-45) scale(0.76,1)" font-size="14" text-anchor="end" fill="#595959">20<tspan font-size="16.1" dx="2.75" dy="0.8">/</tspan><tspan dx="2.75" dy="-0.8">5</tspan><tspan font-size="16.1" dx="2.75" dy="0.8">/</tspan><tspan dx="2.75" dy="-0.8">1</tspan>5</text>
<text transform="translate(240.0,1057.7) rotate(-45) scale(0.76,1)" font-size="14" text-anchor="end" fill="#595959">20<tspan font-size="16.1" dx="2.75" dy="0.8">/</tspan><tspan dx="2.75" dy="-0.8">8</tspan><tspan font-size="16.1" dx="2.75" dy="0.8">/</tspan><tspan dx="2.75" dy="-0.8">1</tspan>5</text>
<text transform="translate(268.5,1057.7) rotate(-45) scale(0.76,1)" font-size="14" text-anchor="end" fill="#595959">20<tspan font-size="16.1" dx="2.75" dy="0.8">/</tspan><tspan dx="2.75" dy="-0.8">1</tspan>1<tspan font-size="16.1" dx="2.75" dy="0.8">/</tspan><tspan dx="2.75" dy="-0.8">1</tspan>5</text>
<text transform="translate(297.0,1057.7) rotate(-45) scale(0.76,1)" font-size="14" text-anchor="end" fill="#595959">21<tspan font-size="16.1" dx="2.75" dy="0.8">/</tspan><tspan dx="2.75" dy="-0.8">2</tspan><tspan font-size="16.1" dx="2.75" dy="0.8">/</tspan><tspan dx="2.75" dy="-0.8">1</tspan>5</text>
<text transform="translate(325.5,1057.7) rotate(-45) scale(0.76,1)" font-size="14" text-anchor="end" fill="#595959">21<tspan font-size="16.1" dx="2.75" dy="0.8">/</tspan><tspan dx="2.75" dy="-0.8">5</tspan><tspan font-size="16.1" dx="2.75" dy="0.8">/</tspan><tspan dx="2.75" dy="-0.8">1</tspan>5</text>
<text transform="translate(354.0,1057.7) rotate(-45) scale(0.76,1)" font-size="14" text-anchor="end" fill="#595959">21<tspan font-size="16.1" dx="2.75" dy="0.8">/</tspan><tspan dx="2.75" dy="-0.8">8</tspan><tspan font-size="16.1" dx="2.75" dy="0.8">/</tspan><tspan dx="2.75" dy="-0.8">1</tspan>5</text>
<text transform="translate(382.5,1057.7) rotate(-45) scale(0.76,1)" font-size="14" text-anchor="end" fill="#595959">21<tspan font-size="16.1" dx="2.75" dy="0.8">/</tspan><tspan dx="2.75" dy="-0.8">1</tspan>1<tspan font-size="16.1" dx="2.75" dy="0.8">/</tspan><tspan dx="2.75" dy="-0.8">1</tspan>5</text>
<text transform="translate(411.0,1057.7) rotate(-45) scale(0.76,1)" font-size="14" text-anchor="end" fill="#595959">22<tspan font-size="16.1" dx="2.75" dy="0.8">/</tspan><tspan dx="2.75" dy="-0.8">2</tspan><tspan font-size="16.1" dx="2.75" dy="0.8">/</tspan><tspan dx="2.75" dy="-0.8">1</tspan>5</text>
<text transform="translate(439.5,1057.7) rotate(-45) scale(0.76,1)" font-size="14" text-anchor="end" fill="#595959">22<tspan font-size="16.1" dx="2.75" dy="0.8">/</tspan><tspan dx="2.75" dy="-0.8">5</tspan><tspan font-size="16.1" dx="2.75" dy="0.8">/</tspan><tspan dx="2.75" dy="-0.8">1</tspan>5</text>
<text transform="translate(468.0,1057.7) rotate(-45) scale(0.76,1)" font-size="14" text-anchor="end" fill="#595959">22<tspan font-size="16.1" dx="2.75" dy="0.8">/</tspan><tspan dx="2.75" dy="-0.8">8</tspan><tspan font-size="16.1" dx="2.75" dy="0.8">/</tspan><tspan dx="2.75" dy="-0.8">1</tspan>5</text>
<text transform="translate(496.5,1057.7) rotate(-45) scale(0.76,1)" font-size="14" text-anchor="end" fill="#595959">22<tspan font-size="16.1" dx="2.75" dy="0.8">/</tspan><tspan dx="2.75" dy="-0.8">1</tspan>1<tspan font-size="16.1" dx="2.75" dy="0.8">/</tspan><tspan dx="2.75" dy="-0.8">1</tspan>5</text>
<text transform="translate(525.0,1057.7) rotate(-45) scale(0.76,1)" font-size="14" text-anchor="end" fill="#595959">23<tspan font-size="16.1" dx="2.75" dy="0.8">/</tspan><tspan dx="2.75" dy="-0.8">2</tspan><tspan font-size="16.1" dx="2.75" dy="0.8">/</tspan><tspan dx="2.75" dy="-0.8">1</tspan>5</text>
<text transform="translate(553.5,1057.7) rotate(-45) scale(0.76,1)" font-size="14" text-anchor="end" fill="#595959">23<tspan font-size="16.1" dx="2.75" dy="0.8">/</tspan><tspan dx="2.75" dy="-0.8">5</tspan><tspan font-size="16.1" dx="2.75" dy="0.8">/</tspan><tspan dx="2.75" dy="-0.8">1</tspan>5</text>
<text transform="translate(582.0,1057.7) rotate(-45) scale(0.76,1)" font-size="14" text-anchor="end" fill="#595959">23<tspan font-size="16.1" dx="2.75" dy="0.8">/</tspan><tspan dx="2.75" dy="-0.8">8</tspan><tspan font-size="16.1" dx="2.75" dy="0.8">/</tspan><tspan dx="2.75" dy="-0.8">1</tspan>5</text>
<text transform="translate(610.5,1057.7) rotate(-45) scale(0.76,1)" font-size="14" text-anchor="end" fill="#595959">23<tspan font-size="16.1" dx="2.75" dy="0.8">/</tspan><tspan dx="2.75" dy="-0.8">1</tspan>1<tspan font-size="16.1" dx="2.75" dy="0.8">/</tspan><tspan dx="2.75" dy="-0.8">1</tspan>5</text>
<line x1="310.2" x2="336.5" y1="774.7" y2="774.7" stroke="#2F8573" stroke-width="5.5" stroke-linecap="round"/><text transform="translate(340.8,779.0) scale(0.77,1)" font-size="12.4" text-anchor="start" fill="#595959" letter-spacing="0">CICFI</text><line x1="379" x2="404.7" y1="774.7" y2="774.7" stroke="#1E3A56" stroke-width="5.5" stroke-linecap="round"/><text transform="translate(409.8,779.0) scale(0.77,1)" font-size="12.4" text-anchor="start" fill="#595959" letter-spacing="0">CCFI</text>
<line x1="672" x2="1137.5" y1="767.0" y2="767.0" stroke="#DADADA" stroke-width="1.6"/><line x1="672" x2="1137.5" y1="804.0" y2="804.0" stroke="#DADADA" stroke-width="1.6"/><line x1="672" x2="1137.5" y1="840.3" y2="840.3" stroke="#DADADA" stroke-width="1.6"/><line x1="672" x2="1137.5" y1="876.8" y2="876.8" stroke="#DADADA" stroke-width="1.6"/><line x1="672" x2="1137.5" y1="913.3" y2="913.3" stroke="#DADADA" stroke-width="1.6"/><line x1="672" x2="1137.5" y1="949.9" y2="949.9" stroke="#DADADA" stroke-width="1.6"/><line x1="672" x2="1137.5" y1="986.6" y2="986.6" stroke="#DADADA" stroke-width="1.6"/><line x1="672" x2="1137.5" y1="1023.0" y2="1023.0" stroke="#DADADA" stroke-width="1.6"/><line x1="672" x2="1137.5" y1="1059.5" y2="1059.5" stroke="#DADADA" stroke-width="1.6"/><line x1="672" x2="1137.5" y1="1096.0" y2="1096.0" stroke="#DADADA" stroke-width="1.6"/>
<text transform="translate(658.2,770.9) scale(0.88,1)" font-size="12.4" text-anchor="end" fill="#595959" >35</text>
<text transform="translate(658.2,807.9) scale(0.88,1)" font-size="12.4" text-anchor="end" fill="#595959" >30</text>
<text transform="translate(658.2,844.1999999999999) scale(0.88,1)" font-size="12.4" text-anchor="end" fill="#595959" >25</text>
<text transform="translate(658.2,880.6999999999999) scale(0.88,1)" font-size="12.4" text-anchor="end" fill="#595959" >20</text>
<text transform="translate(658.2,917.1999999999999) scale(0.88,1)" font-size="12.4" text-anchor="end" fill="#595959" >15</text>
<text transform="translate(658.2,953.8) scale(0.88,1)" font-size="12.4" text-anchor="end" fill="#595959" >10</text>
<text transform="translate(658.2,990.5) scale(0.88,1)" font-size="12.4" text-anchor="end" fill="#595959" >5</text>
<text transform="translate(658.2,1026.9) scale(0.88,1)" font-size="12.4" text-anchor="end" fill="#595959" >0</text>
<text transform="translate(658.2,1063.4) scale(0.88,1)" font-size="12.4" text-anchor="end" fill="#595959" >-5</text>
<text transform="translate(658.2,1099.9) scale(0.88,1)" font-size="12.4" text-anchor="end" fill="#595959" >-10</text>
<polyline points="672.1,963.5 672.7,969.9 674.7,969.9 676.0,986.7 677.2,994.4 677.9,1006.0 677.9,1017.6 680.5,1017.6 681.8,1011.2 683.7,1009.3 684.3,1018.9 685.6,1024.1 686.9,1027.3 688.9,1028.6 690.1,1021.5 691.4,1010.6 694.7,1010.6 695.3,1021.5 697.2,1013.8 699.2,1020.9 701.1,1013.8 703.0,1012.5 706.3,1011.8 706.9,1020.9 710.1,1025.4 713.3,1023.4 714.6,1015.1 715.3,1002.2 717.9,997.7 720.4,1000.2 722.4,1001.5 723.7,1008.6 724.3,1019.6 725.6,1013.8 728.2,1017.6 730.8,1022.2 733.3,1017.0 737.8,1014.4 740.4,1018.9 743.6,1024.7 745.6,1029.2 747.5,1035.7 748.8,1042.8 750.7,1047.3 752.7,1039.6 755.3,1044.7 757.8,1041.5 759.8,1030.5 761.7,1022.8 763.6,1024.1 765.6,1031.2 766.9,1031.8 767.5,1011.8 770.1,1012.5 771.4,1020.2 773.3,1013.8 775.2,1008.0 777.2,1011.2 778.5,1017.0 780.4,1012.5 781.0,1002.2 782.3,997.7 784.3,1001.5 786.8,998.9 787.5,988.0 788.8,972.5 790.1,954.5 790.7,937.7 792.6,937.1 793.9,944.2 795.2,943.5 795.9,919.7 797.2,911.3 799.7,907.4 800.4,914.5 803.0,903.5 803.6,918.4 804.9,939.0 805.5,958.3 807.5,962.2 809.4,959.6 811.3,966.1 812.6,969.9 813.9,993.1 814.6,1017.6 816.5,1022.8 819.1,1022.8 820.0,1023.9 822.5,1019.8 824.1,1004.9 826.6,1002.4 829.9,1007.4 832.4,1014.8 833.2,1031.4 835.7,1029.7 836.5,1011.5 839.0,1005.7 841.5,1013.2 843.1,1011.5 844.8,1023.1 847.3,1028.1 849.8,1024.8 850.6,1013.2 852.2,1024.8 853.9,1003.3 857.2,1001.6 858.8,1011.5 861.3,1019.8 863.8,1008.2 864.6,1000.8 866.3,1018.1 869.6,1018.1 872.1,1013.2 872.9,996.7 874.5,960.3 876.2,993.3 877.9,993.3 878.7,971.9 880.3,946.2 882.0,953.7 883.6,947.1 883.6,867.7 886.1,866.1 886.9,871.0 888.6,848.7 891.1,844.6 891.9,827.2 894.4,832.2 895.2,812.4 898.5,809.0 898.5,890.9 900.2,910.7 901.0,927.2 901.0,965.2 901.8,978.5 904.3,980.1 905.1,990.0 906.8,985.1 908.4,1014.8 909.3,1033.0 910.1,1016.5 912.6,1016.5 914.2,1033.0 915.0,1008.2 916.7,999.1 918.3,1008.2 920.0,1029.7 922.5,1031.4 924.1,1038.0 926.6,1042.9 929.1,1038.0 930.7,1036.3 931.1,999.1 934.0,998.3 935.7,981.8 937.4,973.5 939.8,974.3 940.3,914.0 943.1,909.0 943.1,960.3 944.8,975.2 945.6,993.3 948.1,995.8 949.8,1009.9 952.2,1001.6 953.1,1018.1 953.9,1042.9 954.2,1074.3 957.2,1056.2 959.7,1059.5 961.3,1054.5 963.8,1023.1 965.5,1011.5 967.1,1021.4 968.8,1038.0 970.4,1044.6 972.1,1031.4 974.5,1014.8 976.2,973.5 978.7,975.2 980.0,976.7 980.8,1001.5 982.4,956.9 984.1,947.0 985.7,953.6 987.4,961.9 988.2,976.7 989.9,989.9 990.7,1019.7 992.3,1023.8 994.0,1008.1 995.7,1015.6 996.5,983.3 999.8,980.9 999.8,1004.8 1002.3,1006.5 1002.3,1018.0 1004.7,1019.7 1006.4,1031.2 1008.0,1031.2 1008.9,984.2 1010.5,987.5 1013.0,991.6 1013.8,1021.3 1016.3,1023.8 1018.0,1023.0 1018.3,1003.2 1020.4,1000.7 1022.1,1009.8 1024.6,1008.9 1025.9,1007.3 1026.2,968.5 1027.9,955.3 1028.7,950.3 1029.5,970.1 1032.0,974.2 1034.5,966.8 1037.0,962.7 1040.3,963.5 1041.1,970.1 1043.6,968.5 1044.4,981.7 1046.0,970.1 1048.5,969.3 1050.2,977.6 1053.5,971.8 1054.3,985.0 1057.6,981.7 1060.9,985.8 1062.6,990.8 1064.2,991.6 1065.5,1004.8 1068.3,1013.1 1070.8,1013.1 1074.1,1008.1 1075.0,1002.3 1078.3,1005.6 1079.1,976.7 1079.9,947.0 1082.4,940.4 1082.4,928.8 1084.0,925.5 1085.7,935.4 1088.2,928.8 1089.0,956.9 1090.6,951.9 1091.5,943.7 1091.5,811.5 1092.6,806.6 1093.6,824.7 1094.8,826.4 1095.6,842.9 1098.9,842.9 1100.6,839.6 1101.4,877.6 1101.9,938.7 1103.0,932.1 1103.9,953.6 1105.5,966.8 1106.3,971.8 1107.2,937.1 1109.6,938.7 1110.5,942.0 1111.3,976.7 1112.9,1003.2 1115.4,1003.2 1116.3,978.4 1117.1,978.4 1118.7,989.9 1119.6,1011.4 1119.6,1037.9 1122.0,1037.9 1123.7,1014.7 1125.3,997.4 1126.2,1009.8 1127.8,1032.9 1130.3,1032.9 1131.1,1011.4 1133.3,1009.8 1134.4,1032.9 1136.1,1057.7 1137.2,1065.9" fill="none" stroke="#1E3A56" stroke-width="4.4" stroke-linejoin="round" stroke-linecap="butt"/>
<text transform="translate(675.5,1034.2) rotate(-90) scale(0.865,1)" font-size="12.5" text-anchor="end" fill="#595959">20<tspan font-size="14.375" dx="3.5" dy="0.8">/</tspan><tspan dx="3.5" dy="-0.8">1</tspan>1<tspan font-size="14.375" dx="3.5" dy="0.8">/</tspan><tspan dx="3.5" dy="-0.8">2</tspan>0</text>
<text transform="translate(701.52,1034.2) rotate(-90) scale(0.865,1)" font-size="12.5" text-anchor="end" fill="#595959">21<tspan font-size="14.375" dx="3.5" dy="0.8">/</tspan><tspan dx="3.5" dy="-0.8">1</tspan><tspan font-size="14.375" dx="3.5" dy="0.8">/</tspan><tspan dx="3.5" dy="-0.8">2</tspan>0</text>
<text transform="translate(727.54,1034.2) rotate(-90) scale(0.865,1)" font-size="12.5" text-anchor="end" fill="#595959">21<tspan font-size="14.375" dx="3.5" dy="0.8">/</tspan><tspan dx="3.5" dy="-0.8">3</tspan><tspan font-size="14.375" dx="3.5" dy="0.8">/</tspan><tspan dx="3.5" dy="-0.8">2</tspan>0</text>
<text transform="translate(753.56,1034.2) rotate(-90) scale(0.865,1)" font-size="12.5" text-anchor="end" fill="#595959">21<tspan font-size="14.375" dx="3.5" dy="0.8">/</tspan><tspan dx="3.5" dy="-0.8">5</tspan><tspan font-size="14.375" dx="3.5" dy="0.8">/</tspan><tspan dx="3.5" dy="-0.8">2</tspan>0</text>
<text transform="translate(779.58,1034.2) rotate(-90) scale(0.865,1)" font-size="12.5" text-anchor="end" fill="#595959">21<tspan font-size="14.375" dx="3.5" dy="0.8">/</tspan><tspan dx="3.5" dy="-0.8">7</tspan><tspan font-size="14.375" dx="3.5" dy="0.8">/</tspan><tspan dx="3.5" dy="-0.8">2</tspan>0</text>
<text transform="translate(805.6,1034.2) rotate(-90) scale(0.865,1)" font-size="12.5" text-anchor="end" fill="#595959">21<tspan font-size="14.375" dx="3.5" dy="0.8">/</tspan><tspan dx="3.5" dy="-0.8">9</tspan><tspan font-size="14.375" dx="3.5" dy="0.8">/</tspan><tspan dx="3.5" dy="-0.8">2</tspan>0</text>
<text transform="translate(831.62,1034.2) rotate(-90) scale(0.865,1)" font-size="12.5" text-anchor="end" fill="#595959">21<tspan font-size="14.375" dx="3.5" dy="0.8">/</tspan><tspan dx="3.5" dy="-0.8">1</tspan>1<tspan font-size="14.375" dx="3.5" dy="0.8">/</tspan><tspan dx="3.5" dy="-0.8">2</tspan>0</text>
<text transform="translate(857.64,1034.2) rotate(-90) scale(0.865,1)" font-size="12.5" text-anchor="end" fill="#595959">22<tspan font-size="14.375" dx="3.5" dy="0.8">/</tspan><tspan dx="3.5" dy="-0.8">1</tspan><tspan font-size="14.375" dx="3.5" dy="0.8">/</tspan><tspan dx="3.5" dy="-0.8">2</tspan>0</text>
<text transform="translate(883.66,1034.2) rotate(-90) scale(0.865,1)" font-size="12.5" text-anchor="end" fill="#595959">22<tspan font-size="14.375" dx="3.5" dy="0.8">/</tspan><tspan dx="3.5" dy="-0.8">3</tspan><tspan font-size="14.375" dx="3.5" dy="0.8">/</tspan><tspan dx="3.5" dy="-0.8">2</tspan>0</text>
<text transform="translate(909.6800000000001,1034.2) rotate(-90) scale(0.865,1)" font-size="12.5" text-anchor="end" fill="#595959">22<tspan font-size="14.375" dx="3.5" dy="0.8">/</tspan><tspan dx="3.5" dy="-0.8">5</tspan><tspan font-size="14.375" dx="3.5" dy="0.8">/</tspan><tspan dx="3.5" dy="-0.8">2</tspan>0</text>
<text transform="translate(935.7,1034.2) rotate(-90) scale(0.865,1)" font-size="12.5" text-anchor="end" fill="#595959">22<tspan font-size="14.375" dx="3.5" dy="0.8">/</tspan><tspan dx="3.5" dy="-0.8">7</tspan><tspan font-size="14.375" dx="3.5" dy="0.8">/</tspan><tspan dx="3.5" dy="-0.8">2</tspan>0</text>
<text transform="translate(961.72,1034.2) rotate(-90) scale(0.865,1)" font-size="12.5" text-anchor="end" fill="#595959">22<tspan font-size="14.375" dx="3.5" dy="0.8">/</tspan><tspan dx="3.5" dy="-0.8">9</tspan><tspan font-size="14.375" dx="3.5" dy="0.8">/</tspan><tspan dx="3.5" dy="-0.8">2</tspan>0</text>
<text transform="translate(987.74,1034.2) rotate(-90) scale(0.865,1)" font-size="12.5" text-anchor="end" fill="#595959">22<tspan font-size="14.375" dx="3.5" dy="0.8">/</tspan><tspan dx="3.5" dy="-0.8">1</tspan>1<tspan font-size="14.375" dx="3.5" dy="0.8">/</tspan><tspan dx="3.5" dy="-0.8">2</tspan>0</text>
<text transform="translate(1013.76,1034.2) rotate(-90) scale(0.865,1)" font-size="12.5" text-anchor="end" fill="#595959">23<tspan font-size="14.375" dx="3.5" dy="0.8">/</tspan><tspan dx="3.5" dy="-0.8">1</tspan><tspan font-size="14.375" dx="3.5" dy="0.8">/</tspan><tspan dx="3.5" dy="-0.8">2</tspan>0</text>
<text transform="translate(1039.78,1034.2) rotate(-90) scale(0.865,1)" font-size="12.5" text-anchor="end" fill="#595959">23<tspan font-size="14.375" dx="3.5" dy="0.8">/</tspan><tspan dx="3.5" dy="-0.8">3</tspan><tspan font-size="14.375" dx="3.5" dy="0.8">/</tspan><tspan dx="3.5" dy="-0.8">2</tspan>0</text>
<text transform="translate(1065.8,1034.2) rotate(-90) scale(0.865,1)" font-size="12.5" text-anchor="end" fill="#595959">23<tspan font-size="14.375" dx="3.5" dy="0.8">/</tspan><tspan dx="3.5" dy="-0.8">5</tspan><tspan font-size="14.375" dx="3.5" dy="0.8">/</tspan><tspan dx="3.5" dy="-0.8">2</tspan>0</text>
<text transform="translate(1091.82,1034.2) rotate(-90) scale(0.865,1)" font-size="12.5" text-anchor="end" fill="#595959">23<tspan font-size="14.375" dx="3.5" dy="0.8">/</tspan><tspan dx="3.5" dy="-0.8">7</tspan><tspan font-size="14.375" dx="3.5" dy="0.8">/</tspan><tspan dx="3.5" dy="-0.8">2</tspan>0</text>
<text transform="translate(1117.84,1034.2) rotate(-90) scale(0.865,1)" font-size="12.5" text-anchor="end" fill="#595959">23<tspan font-size="14.375" dx="3.5" dy="0.8">/</tspan><tspan dx="3.5" dy="-0.8">9</tspan><tspan font-size="14.375" dx="3.5" dy="0.8">/</tspan><tspan dx="3.5" dy="-0.8">2</tspan>0</text>
</svg>
<div class="t src" style="left:119px;top:663px;">数据来源：<span class="w"><span>Wind</span></span> 资讯</div>
<div class="t src" style="left:670px;top:663px;">数据来源：<span class="w"><span>Wind</span></span> 资讯</div>
<div class="t src" style="left:119px;top:1185.5px;">数据来源：<span class="w"><span>Wind</span></span> 资讯</div>
<div class="t src" style="left:670px;top:1185.5px;">数据来源：<span class="w"><span>Wind</span></span> 资讯</div>
<div class="t foot" style="left:190.3px;top:1698px;">请务必阅读正文之后的免责声明</div>
</body></html>
